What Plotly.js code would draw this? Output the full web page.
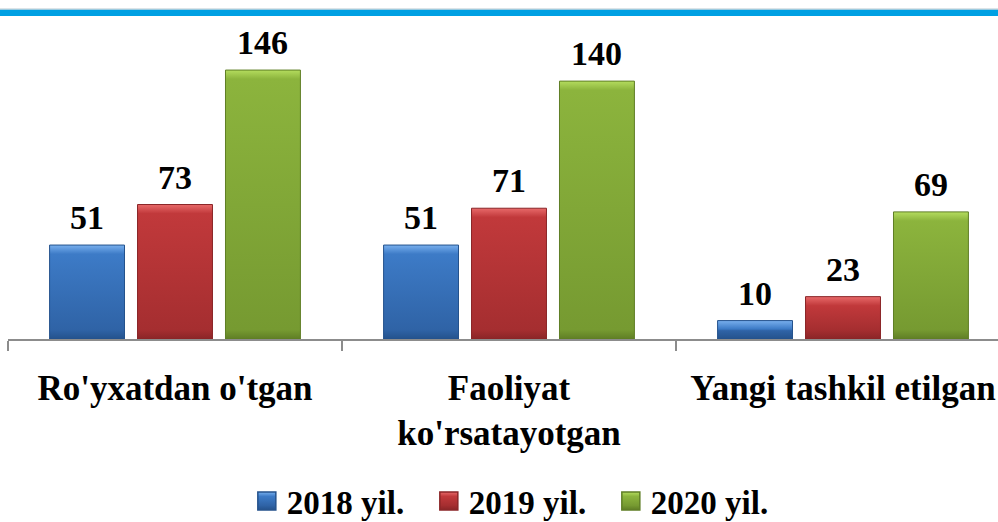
<!DOCTYPE html>
<html>
<head>
<meta charset="utf-8">
<script src="https://cdn.plot.ly/plotly-3.0.1.min.js"></script>
<style>html,body{margin:0;padding:0;background:#fff;}#chart{width:998px;height:522px;}</style>
</head>
<body>
<div id="chart"></div>
<script>
var categories = ["Ro'yxatdan o'tgan", "Faoliyat<br>ko'rsatayotgan", "Yangi tashkil etilgan"];
var seriesNames = ["2018 yil.", "2019 yil.", "2020 yil."];
var values2018 = [51, 51, 10];
var values2019 = [73, 71, 23];
var values2020 = [146, 140, 69];

var allValues = [values2018, values2019, values2020];
var fills = ["#3D7BC7", "#C1393B", "#8CB43D"];
var borders = ["#24528C", "#8A2527", "#5F7E25"];
var lights = ["#79B0EE", "#E86A6A", "#B4DC5E"];
var darks = ["#2F63A6", "#A52E30", "#769A31"];

var FONT = "Liberation Serif";
var bargap = 0.21, bargroupgap = 0.148;
var slot = (1 - bargap) / 3;

function draw() {
  var traces = seriesNames.map(function (name, si) {
    return {
      type: "bar",
      name: name,
      x: categories,
      y: allValues[si],
      marker: {color: fills[si], line: {color: borders[si], width: 1}},
      hoverinfo: "skip"
    };
  });

  var annotations = [];
  allValues.forEach(function (vals, si) {
    vals.forEach(function (v, ci) {
      annotations.push({
        xref: "x", yref: "y",
        x: ci + (si - 1) * slot,
        y: v,
        text: String(v),
        showarrow: false,
        yanchor: "bottom",
        yshift: 7,
        font: {family: FONT, size: 34, color: "#000", weight: "bold"}
      });
    });
  });

  var layout = {
    width: 998, height: 522,
    margin: {l: 8, r: 0, t: 20, b: 183, autoexpand: false},
    paper_bgcolor: "#fff", plot_bgcolor: "#fff",
    font: {family: FONT, color: "#000"},
    barmode: "group",
    bargap: bargap, bargroupgap: bargroupgap,
    showlegend: true,
    legend: {
      orientation: "h", x: 0.517, xanchor: "center",
      yref: "paper", y: (339 - 501) / 319, yanchor: "middle",
      font: {family: FONT, size: 33, color: "#000", weight: "bold"},
      itemwidth: 30, traceorder: "normal", entrywidth: 137
    },
    xaxis: {
      type: "category",
      range: [-0.5, -0.5 + 990 / 334],
      showline: true, linecolor: "#8C8C8C", linewidth: 1.5,
      ticks: "outside", tickson: "boundaries", ticklen: 10, tickcolor: "#8C8C8C", tickwidth: 1.5,
      ticklabelstandoff: 17,
      showgrid: false, zeroline: false,
      tickfont: {family: FONT, size: 35, color: "#000", weight: "bold"},
      fixedrange: true
    },
    yaxis: {
      range: [0, 319 / 1.842],
      visible: false, showgrid: false, zeroline: false, fixedrange: true
    },
    annotations: annotations,
    shapes: [
      {type: "rect", xref: "paper", yref: "paper", x0: -0.02, x1: 1.02,
       y0: (339 - 16) / 319, y1: (339 - 9.5) / 319,
       fillcolor: "#00A0E3", line: {width: 0}, layer: "above"},
      {type: "line", xref: "paper", yref: "paper", x0: -0.02, x1: 1.02,
       y0: (339 - 9) / 319, y1: (339 - 9) / 319,
       line: {color: "#B8C8D0", width: 1}, layer: "above"}
    ]
  };

  Plotly.newPlot("chart", traces, layout, {displayModeBar: false}).then(function (gd) {
    var svg = gd.querySelector("svg.main-svg");
    var NS = "http://www.w3.org/2000/svg";
    var defs = document.createElementNS(NS, "defs");
    svg.appendChild(defs);
    var gid = 0;
    function applyGrad(path, si, bevelPx) {
      var bb = path.getBBox();
      if (!bb.height) return;
      var g = document.createElementNS(NS, "linearGradient");
      var id = "bg" + (gid++);
      g.setAttribute("id", id);
      g.setAttribute("x1", "0"); g.setAttribute("x2", "0");
      g.setAttribute("y1", "0"); g.setAttribute("y2", "1");
      var b = Math.min(0.45, bevelPx / bb.height);
      var stops = [[0, lights[si]], [b, fills[si]], [1 - b, darks[si]], [1, borders[si]]];
      stops.forEach(function (s) {
        var st = document.createElementNS(NS, "stop");
        st.setAttribute("offset", s[0]);
        st.setAttribute("stop-color", s[1]);
        g.appendChild(st);
      });
      defs.appendChild(g);
      path.style.fill = "url(#" + id + ")";
    }
    gd.querySelectorAll(".barlayer .trace").forEach(function (tr, si) {
      tr.querySelectorAll(".point path").forEach(function (p) { applyGrad(p, si, 9); });
    });
    gd.querySelectorAll(".legend .traces .legendpoints path").forEach(function (p, si) {
      var t = p.getAttribute("transform") || "";
      p.setAttribute("transform", t + " scale(1.5)");
      applyGrad(p, si % 3, 3);
    });
  });
}

if (document.fonts && document.fonts.load) {
  document.fonts.load('bold 32px "Liberation Serif"').then(draw, draw);
} else {
  draw();
}
</script>
</body>
</html>
